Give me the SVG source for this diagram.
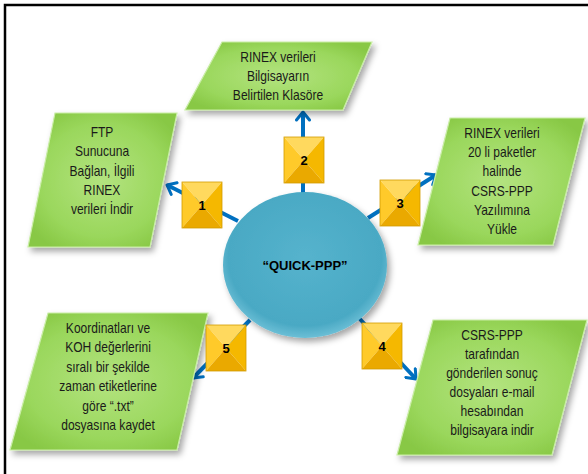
<svg xmlns="http://www.w3.org/2000/svg" xmlns:xlink="http://www.w3.org/1999/xlink" width="588" height="474" viewBox="0 0 588 474">
<style>
.frame{fill:#ffffff;stroke:#000000;stroke-width:2.5}
.para{fill:url(#gGreen);stroke:#c9eda6;stroke-width:1.2;filter:url(#shadow)}
.ntxt{font-family:"Liberation Sans",Arial,sans-serif;font-size:14px;fill:#1a1a1a;text-anchor:middle}
.num{font-family:"Liberation Sans",Arial,sans-serif;font-size:13px;font-weight:bold;fill:#000;text-anchor:middle}
.hub{font-family:"Liberation Sans",Arial,sans-serif;font-size:13px;font-weight:bold;fill:#000;text-anchor:middle}
.conn{stroke:#0070c0;stroke-width:4;fill:none;marker-end:url(#arrow)}
</style>
<defs>
<radialGradient id="gGreen" cx="50%" cy="50%" r="60%">
<stop offset="0" stop-color="#b3e37f"/>
<stop offset="0.7" stop-color="#9ad75c"/>
<stop offset="1" stop-color="#88c845"/>
</radialGradient>
<radialGradient id="gBlue" cx="50%" cy="45%" r="55%">
<stop offset="0" stop-color="#55b3cd"/>
<stop offset="0.85" stop-color="#4aa9c4"/>
<stop offset="1" stop-color="#6cbfd6"/>
</radialGradient>
<filter id="shadow" x="-20%" y="-20%" width="150%" height="150%">
<feDropShadow dx="3" dy="4" stdDeviation="3" flood-color="#000" flood-opacity="0.35"/>
</filter>
<marker id="arrow" viewBox="0 0 12 16" refX="10" refY="8" markerWidth="12" markerHeight="16" markerUnits="userSpaceOnUse" orient="auto">
<path d="M2,1.5 L10,8 L2,14.5" fill="none" stroke="#0070c0" stroke-width="3" stroke-linecap="round" stroke-linejoin="round"/>
</marker>
<g id="box">
<polygon points="0,0 40,0 20,23" fill="#ffd95e"/>
<polygon points="0,0 20,23 0,46" fill="#ffca2a"/>
<polygon points="40,0 40,46 20,23" fill="#f5b800"/>
<polygon points="0,46 20,23 40,46" fill="#eaa900"/>
<rect x="0" y="0" width="40" height="46" fill="none" stroke="#d39c00" stroke-width="0.8"/>
</g>
</defs>
<rect class="frame" x="5" y="5" width="600" height="500"/>

<g id="connectors">
<line class="conn" x1="238" y1="221" x2="167" y2="185"/>
<line class="conn" x1="303" y1="194" x2="303" y2="112"/>
<line class="conn" x1="368" y1="218" x2="436" y2="175"/>
<line class="conn" x1="358" y1="317" x2="416" y2="379"/>
<line class="conn" x1="250" y1="320" x2="193" y2="378"/>
</g>

<g id="hub">
<ellipse cx="305" cy="265" rx="82" ry="73" fill="url(#gBlue)" filter="url(#shadow)"/>
<text class="hub" x="305" y="270">“QUICK-PPP”</text>
</g>

<g id="node1">
<polygon class="para" points="55,113 177,113 150,247 28,247"/>
<g transform="translate(102,0) scale(0.86,1)">
<text class="ntxt" x="0" y="137">FTP</text>
<text class="ntxt" x="0" y="156">Sunucuna</text>
<text class="ntxt" x="0" y="176">Bağlan, İlgili</text>
<text class="ntxt" x="0" y="195">RINEX</text>
<text class="ntxt" x="0" y="214">verileri İndir</text>
</g>
</g>

<g id="node2">
<polygon class="para" points="222,42 372,42 343,110 185,110"/>
<g transform="translate(278,0) scale(0.86,1)">
<text class="ntxt" x="0" y="62">RINEX  verileri</text>
<text class="ntxt" x="0" y="81">Bilgisayarın</text>
<text class="ntxt" x="0" y="100">Belirtilen Klasöre</text>
</g>
</g>

<g id="node3">
<polygon class="para" points="450,118 585,118 553,245 418,245"/>
<g transform="translate(502,0) scale(0.86,1)">
<text class="ntxt" x="0" y="138">RINEX  verileri</text>
<text class="ntxt" x="0" y="157">20 li paketler</text>
<text class="ntxt" x="0" y="176">halinde</text>
<text class="ntxt" x="0" y="196">CSRS-PPP</text>
<text class="ntxt" x="0" y="215">Yazılımına</text>
<text class="ntxt" x="0" y="234">Yükle</text>
</g>
</g>

<g id="node4">
<polygon class="para" points="433,320 587,320 552,455 397,455"/>
<g transform="translate(492,0) scale(0.86,1)">
<text class="ntxt" x="0" y="340">CSRS-PPP</text>
<text class="ntxt" x="0" y="359">tarafından</text>
<text class="ntxt" x="0" y="378">gönderilen sonuç</text>
<text class="ntxt" x="0" y="397">dosyaları e-mail</text>
<text class="ntxt" x="0" y="416">hesabından</text>
<text class="ntxt" x="0" y="435">bilgisayara indir</text>
</g>
</g>

<g id="node5">
<polygon class="para" points="48,313 208,313 177,450 10,450"/>
<g transform="translate(108,0) scale(0.86,1)">
<text class="ntxt" x="0" y="333">Koordinatları ve</text>
<text class="ntxt" x="0" y="352">KOH değerlerini</text>
<text class="ntxt" x="0" y="372">sıralı bir şekilde</text>
<text class="ntxt" x="0" y="391">zaman etiketlerine</text>
<text class="ntxt" x="0" y="411">göre “.txt”</text>
<text class="ntxt" x="0" y="430">dosyasına kaydet</text>
</g>
</g>

<g id="step1"><use xlink:href="#box" transform="translate(182,182)"/><text class="num" x="202" y="210">1</text></g>
<g id="step2"><use xlink:href="#box" transform="translate(284,137)"/><text class="num" x="304" y="165">2</text></g>
<g id="step3"><use xlink:href="#box" transform="translate(380,180)"/><text class="num" x="400" y="208">3</text></g>
<g id="step4"><use xlink:href="#box" transform="translate(362,323)"/><text class="num" x="382" y="351">4</text></g>
<g id="step5"><use xlink:href="#box" transform="translate(206,325)"/><text class="num" x="226" y="353">5</text></g>
</svg>
